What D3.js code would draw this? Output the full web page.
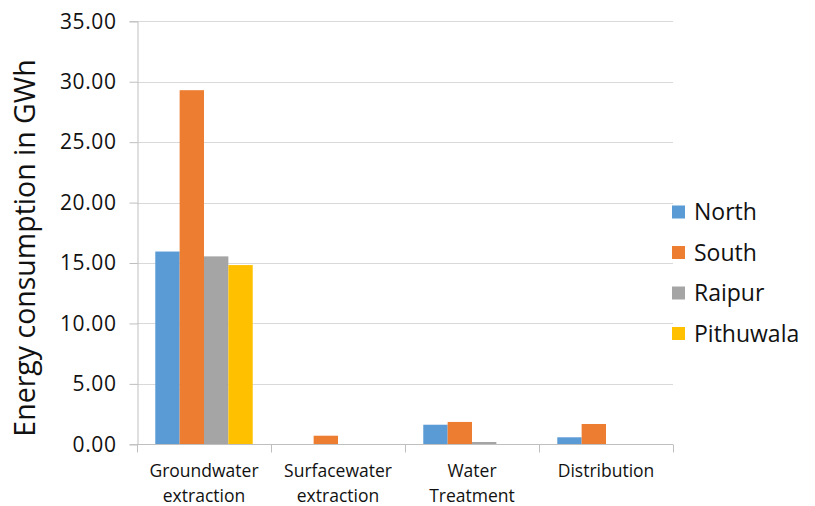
<!DOCTYPE html>
<html>
<head>
<meta charset="utf-8">
<script src="https://cdn.jsdelivr.net/npm/d3@7/dist/d3.min.js"></script>
<style>
  html, body { margin: 0; padding: 0; background: #ffffff; }
  svg { display: block; font-family: "Open Sans", "Noto Sans", sans-serif; }
</style>
</head>
<body>
<svg id="chart" width="815" height="506"></svg>
<script>
// Energy use per stage of the water supply chain, by zone (GWh)
const categories = ["Groundwater extraction", "Surfacewater extraction", "Water Treatment", "Distribution"];
const seriesNames = ["North", "South", "Raipur", "Pithuwala"];
const north     = [15.95, 0.00, 1.62, 0.58];
const south     = [29.30, 0.71, 1.85, 1.68];
const raipur    = [15.55, 0.00, 0.19, 0.00];
const pithuwala = [14.83, 0.00, 0.00, 0.00];
const yTicks = [0, 5, 10, 15, 20, 25, 30, 35];
const colors = ["#5B9BD5", "#ED7D31", "#A5A5A5", "#FFC000"];

const seriesValues = [north, south, raipur, pithuwala];

const svg = d3.select("#chart");
const plotLeft = 137, plotRight = 673, plotTop = 21.3, plotBottom = 444.3;

const x0 = d3.scaleBand().domain(categories).range([plotLeft, plotRight]).paddingInner(0).paddingOuter(0);
const x1 = d3.scaleBand().domain(seriesNames).range([0, x0.bandwidth()]).paddingInner(0).paddingOuter(0.75);
const y = d3.scaleLinear().domain([0, 35]).range([plotBottom, plotTop]);
const color = d3.scaleOrdinal().domain(seriesNames).range(colors);

// Horizontal gridlines
svg.append("g")
  .selectAll("line")
  .data(yTicks.filter(t => t > 0))
  .join("line")
  .attr("x1", plotLeft).attr("x2", plotRight)
  .attr("y1", d => Math.round(y(d)) + 0.5).attr("y2", d => Math.round(y(d)) + 0.5)
  .attr("stroke", "#D9D9D9").attr("stroke-width", 1);

// Y axis
const yAxis = svg.append("g")
  .attr("transform", `translate(${plotLeft + 0.5},0)`)
  .call(d3.axisLeft(y).tickValues(yTicks).tickFormat(d3.format(".2f")).tickSize(8).tickPadding(13));
yAxis.select(".domain").attr("stroke", "#BFBFBF");
yAxis.selectAll(".tick line").attr("stroke", "#BFBFBF");
yAxis.selectAll(".tick text")
  .attr("fill", "#111").attr("font-size", 21).attr("letter-spacing", "0.6px")
  .attr("font-family", "'Open Sans', sans-serif");

// Bars
const rows = categories.map((c, i) => ({ category: c, values: seriesNames.map((s, j) => ({ key: s, value: seriesValues[j][i] })) }));
svg.append("g")
  .selectAll("g")
  .data(rows)
  .join("g")
  .attr("transform", d => `translate(${x0(d.category)},0)`)
  .selectAll("rect")
  .data(d => d.values.filter(v => v.value > 0))
  .join("rect")
  .attr("x", d => x1(d.key))
  .attr("width", x1.bandwidth())
  .attr("y", d => y(d.value))
  .attr("height", d => y(0) - y(d.value))
  .attr("fill", d => color(d.key));

// X axis baseline and category separators
const xAxis = svg.append("g").attr("transform", `translate(0,${Math.round(plotBottom) + 0.5})`);
xAxis.append("line").attr("x1", plotLeft).attr("x2", plotRight).attr("stroke", "#BFBFBF");
xAxis.selectAll("line.sep")
  .data(categories.map(c => x0(c)).concat([plotRight]))
  .join("line").attr("class", "sep")
  .attr("x1", d => Math.round(d) + 0.5).attr("x2", d => Math.round(d) + 0.5)
  .attr("y1", 0).attr("y2", 8)
  .attr("stroke", "#BFBFBF");

// Category labels, wrapped after the first word
const labels = svg.append("g");
categories.forEach(c => {
  const sp = c.indexOf(" ");
  const lines = sp > 0 ? [c.slice(0, sp), c.slice(sp + 1)] : [c];
  const t = labels.append("text")
    .attr("x", x0(c) + x0.bandwidth() / 2)
    .attr("text-anchor", "middle")
    .attr("font-size", 17.5)
    .attr("fill", "#111");
  lines.forEach((l, k) => {
    t.append("tspan").attr("x", x0(c) + x0.bandwidth() / 2).attr("y", 477 + k * 25).text(l);
  });
});

// Y axis title
svg.append("text")
  .attr("transform", "translate(35,248) rotate(-90)")
  .attr("text-anchor", "middle")
  .attr("font-size", 28.5)
  .attr("fill", "#111")
  .text("Energy consumption in GWh");

// Legend
const legend = svg.append("g");
seriesNames.forEach((s, i) => {
  const cy = 212 + i * 40.5;
  legend.append("rect").attr("x", 672).attr("y", cy - 6.5).attr("width", 13).attr("height", 13).attr("fill", color(s));
  legend.append("text").attr("x", 694).attr("y", cy + 8).attr("font-size", 23).attr("fill", "#111").text(s);
});
</script>
</body>
</html>
